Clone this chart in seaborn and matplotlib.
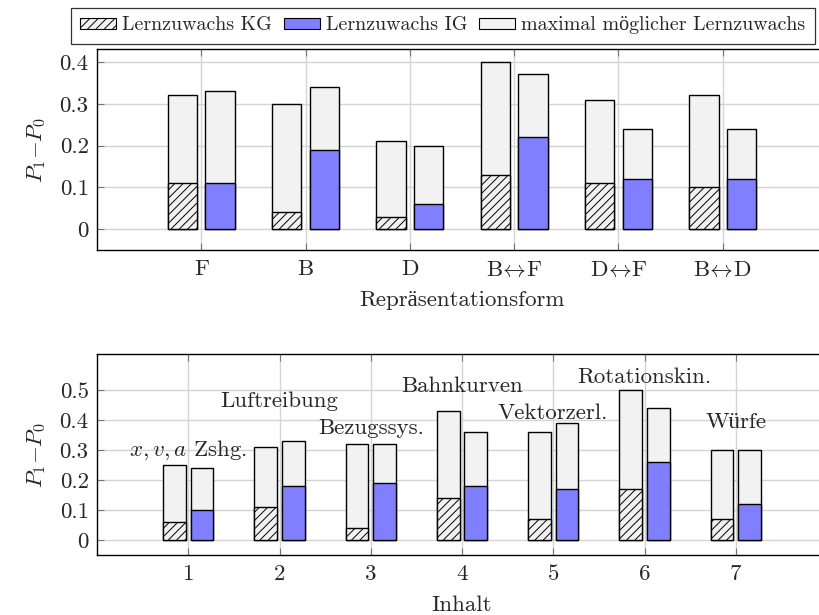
import matplotlib
matplotlib.use('Agg')
import matplotlib.pyplot as plt
import seaborn as sns
import pandas as pd
from matplotlib.patches import Patch

# ---------------- data ----------------
forms = ['F', 'B', 'D', 'B$\\!\\leftrightarrow\\!$F', 'D$\\!\\leftrightarrow\\!$F',
         'B$\\!\\leftrightarrow\\!$D']
form_kg_gain = [0.11, 0.04, 0.03, 0.13, 0.11, 0.10]
form_kg_max = [0.32, 0.30, 0.21, 0.40, 0.31, 0.32]
form_ig_gain = [0.11, 0.19, 0.06, 0.22, 0.12, 0.12]
form_ig_max = [0.33, 0.34, 0.20, 0.37, 0.24, 0.24]
form_yticks = [0, 0.1, 0.2, 0.3, 0.4]
form_yticklabels = ['0', '0.1', '0.2', '0.3', '0.4']

contents = ['1', '2', '3', '4', '5', '6', '7']
content_names = ['$x, v, a$ Zshg.', 'Luftreibung', 'Bezugssys.', 'Bahnkurven',
                 'Vektorzerl.', 'Rotationskin.', 'Würfe']
content_name_y = [0.280, 0.442, 0.355, 0.492, 0.403, 0.523, 0.375]
content_kg_gain = [0.06, 0.11, 0.04, 0.14, 0.07, 0.17, 0.07]
content_kg_max = [0.25, 0.31, 0.32, 0.43, 0.36, 0.50, 0.30]
content_ig_gain = [0.10, 0.18, 0.19, 0.18, 0.17, 0.26, 0.12]
content_ig_max = [0.24, 0.33, 0.32, 0.36, 0.39, 0.44, 0.30]
content_yticks = [0, 0.1, 0.2, 0.3, 0.4, 0.5]
content_yticklabels = ['0', '0.1', '0.2', '0.3', '0.4', '0.5']

legend_labels = ['Lernzuwachs KG', 'Lernzuwachs IG', 'maximal möglicher Lernzuwachs']
y_label = '$P_1{-}P_0$'

GREY = '#f2f2f2'
BLUE = '#8080ff'

# ---------------- style ----------------
sns.set_style('whitegrid', {'axes.edgecolor': 'black', 'grid.color': '#d4d4d4'})
plt.rcParams['font.family'] = ['cmr10', 'Liberation Serif', 'DejaVu Serif']
plt.rcParams['mathtext.fontset'] = 'cm'
plt.rcParams['axes.formatter.use_mathtext'] = True
plt.rcParams['hatch.linewidth'] = 0.7
plt.rcParams['hatch.color'] = 'black'
FS = 16.5

fig = plt.figure(figsize=(8.19, 6.15), dpi=100)
W = 730 / 819
L = 97 / 819
ax1 = fig.add_axes([L, 1 - 250 / 615, W, 201 / 615])
ax2 = fig.add_axes([L, 1 - 555 / 615, W, 201 / 615])


def panel(ax, cats, kg_gain, kg_max, ig_gain, ig_max, width, gap):
    n = len(cats)
    df_max = pd.DataFrame({'cat': cats * 2, 'grp': ['KG'] * n + ['IG'] * n,
                           'val': kg_max + ig_max})
    df_gain = pd.DataFrame({'cat': cats * 2, 'grp': ['KG'] * n + ['IG'] * n,
                            'val': kg_gain + ig_gain})
    sns.barplot(data=df_max, x='cat', y='val', hue='grp', hue_order=['KG', 'IG'],
                palette={'KG': GREY, 'IG': GREY}, width=width, gap=gap,
                edgecolor='black', linewidth=1.0, saturation=1, errorbar=None,
                legend=False, ax=ax)
    sns.barplot(data=df_gain, x='cat', y='val', hue='grp', hue_order=['KG', 'IG'],
                palette={'KG': GREY, 'IG': BLUE}, width=width, gap=gap,
                edgecolor='black', linewidth=1.0, saturation=1, errorbar=None,
                legend=False, ax=ax)
    for p in ax.containers[2]:
        p.set_hatch('////')
    ax.set_axisbelow(True)
    ax.grid(True, color='#d4d4d4', linewidth=1.0)
    ax.set_xlim(-1, n)
    ax.tick_params(axis='both', direction='in', length=5, width=0.8, color='#777777',
                   top=True, right=True, bottom=True, left=True, labelsize=FS)
    ax.tick_params(axis='x', pad=7)
    ax.tick_params(axis='y', pad=6)
    for s in ax.spines.values():
        s.set_color('black')
        s.set_linewidth(1.0)


panel(ax1, forms, form_kg_gain, form_kg_max, form_ig_gain, form_ig_max, 0.72, 0.222)
ax1.set_ylim(-0.05, 0.431)
ax1.set_yticks(form_yticks)
ax1.set_yticklabels(form_yticklabels)
ax1.set_xlabel('Repräsentationsform', fontsize=FS, labelpad=8)
ax1.set_ylabel(y_label, fontsize=FS, labelpad=8)

panel(ax2, contents, content_kg_gain, content_kg_max, content_ig_gain, content_ig_max, 0.60, 0.167)
ax2.set_ylim(-0.05, 0.62)
ax2.set_yticks(content_yticks)
ax2.set_yticklabels(content_yticklabels)
ax2.set_xlabel('Inhalt', fontsize=FS, labelpad=8)
ax2.set_ylabel(y_label, fontsize=FS, labelpad=8)
for i, (name, y) in enumerate(zip(content_names, content_name_y)):
    ax2.text(i, y, name, ha='center', va='baseline', fontsize=FS)

handles = [Patch(facecolor=GREY, edgecolor='black', hatch='////', linewidth=0.8),
           Patch(facecolor=BLUE, edgecolor='black', linewidth=0.8),
           Patch(facecolor=GREY, edgecolor='black', linewidth=0.8)]
leg = fig.legend(handles, legend_labels, loc='center left', ncol=3,
                 bbox_to_anchor=(71 / 819, 1 - 25.5 / 615), fontsize=14.4,
                 frameon=True, fancybox=False, edgecolor='black',
                 handlelength=1.8, handleheight=0.5, handletextpad=0.3,
                 columnspacing=0.6, borderpad=0.45, borderaxespad=0)
leg.get_frame().set_linewidth(0.9)

fig.savefig('out.png', dpi=100)
